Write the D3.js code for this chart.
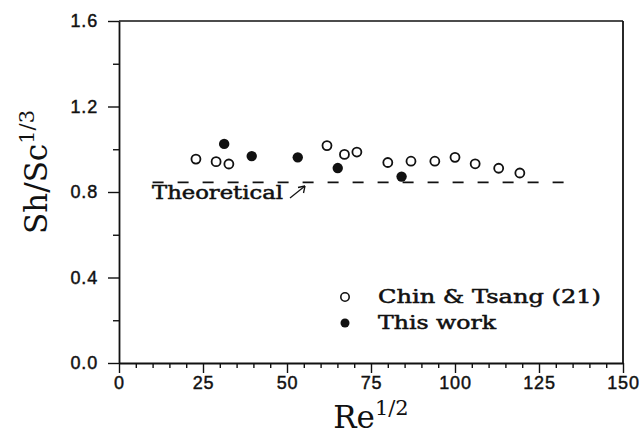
<!DOCTYPE html>
<html>
<head>
<meta charset="utf-8">
<script src="https://cdn.jsdelivr.net/npm/d3@7"></script>
<style>
  html, body { margin: 0; padding: 0; background: #fff; }
  svg { display: block; }
</style>
</head>
<body>
<svg id="chart" width="641" height="436"></svg>
<script>
// Sh/Sc^(1/3) against Re^(1/2)
const chinTsangRe = [22.9, 28.9, 32.7, 61.9, 67.1, 70.8, 80.0, 86.9, 94.0, 100.0, 106.0, 113.0, 119.3];
const chinTsangSh = [0.954, 0.942, 0.931, 1.017, 0.976, 0.987, 0.938, 0.944, 0.944, 0.962, 0.932, 0.911, 0.889];
const thisWorkRe = [31.3, 39.5, 53.2, 65.1, 84.1];
const thisWorkSh = [1.025, 0.968, 0.962, 0.912, 0.872];
const theoryRe = [10, 135];
const theorySh = [0.845, 0.845];
const xTicks = [0, 25, 50, 75, 100, 125, 150];
const yTicks = [0.0, 0.4, 0.8, 1.2, 1.6];
const legendLabels = ["Chin & Tsang (21)", "This work"];
const theoryLabel = "Theoretical";

const svg = d3.select("#chart");
const plotL = 119, plotR = 623, plotT = 21, plotB = 363;

const x = d3.scaleLinear().domain([0, 150]).range([plotL, plotR]);
const y = d3.scaleLinear().domain([0, 1.6]).range([plotB, plotT]);

const ink = "#111";
const tickFont = "'Liberation Sans', Arial, sans-serif";
const typeFont = "'DejaVu Serif', 'Liberation Serif', serif";
const titleFont = "'DejaVu Serif', 'Liberation Serif', serif";

// frame: top and right edges
svg.append("line").attr("x1", plotL).attr("x2", plotR).attr("y1", plotT).attr("y2", plotT)
  .attr("stroke", ink).attr("stroke-width", 1.6);
svg.append("line").attr("x1", plotR).attr("x2", plotR).attr("y1", plotT).attr("y2", plotB)
  .attr("stroke", ink).attr("stroke-width", 1.8);

// minor ticks
const xMinor = d3.range(0, 151, 5).filter(v => v % 25 !== 0);
const yMinor = [0.2, 0.6, 1.0, 1.4];

svg.append("g").attr("transform", `translate(0,${plotB})`)
  .call(d3.axisBottom(x).tickValues(xTicks).tickFormat(d3.format("d")).tickSize(10).tickSizeOuter(0).tickPadding(3));
svg.append("g").attr("transform", `translate(0,${plotB})`)
  .call(d3.axisBottom(x).tickValues(xMinor).tickFormat("").tickSize(5).tickSizeOuter(0))
  .call(g => g.select(".domain").remove());

svg.append("g").attr("transform", `translate(${plotL},0)`)
  .call(d3.axisLeft(y).tickValues(yTicks).tickFormat(d3.format(".1f")).tickSize(11).tickSizeOuter(0).tickPadding(10));
svg.append("g").attr("transform", `translate(${plotL},0)`)
  .call(d3.axisLeft(y).tickValues(yMinor).tickFormat("").tickSize(6).tickSizeOuter(0))
  .call(g => g.select(".domain").remove());

svg.selectAll(".domain").attr("stroke", ink).attr("stroke-width", 1.8);
svg.selectAll(".tick line").attr("stroke", ink).attr("stroke-width", 1.4);
svg.selectAll(".tick text").attr("fill", ink).attr("font-family", tickFont)
  .attr("font-size", 18).attr("letter-spacing", 0.8)
  .attr("stroke", ink).attr("stroke-width", 0.45);

// theoretical line
svg.append("path")
  .datum(theoryRe.map((r, i) => [r, theorySh[i]]))
  .attr("d", d3.line().x(d => x(d[0])).y(d => y(d[1])))
  .attr("fill", "none").attr("stroke", ink).attr("stroke-width", 1.6)
  .attr("stroke-dasharray", "11 14");

svg.append("text").attr("x", 152).attr("y", 199)
  .attr("font-family", typeFont).attr("font-size", 18)
  .attr("stroke", ink).attr("stroke-width", 0.5)
  .attr("textLength", 131).attr("lengthAdjust", "spacingAndGlyphs")
  .attr("fill", ink).text(theoryLabel);

// arrow pointing at the theoretical line
svg.append("line").attr("x1", 290).attr("y1", 198).attr("x2", 305).attr("y2", 186)
  .attr("stroke", ink).attr("stroke-width", 1.3);
svg.append("path").attr("d", "M305,186 l-7,1.5 M305,186 l-1.5,7")
  .attr("stroke", ink).attr("stroke-width", 1.3).attr("fill", "none");

// data points
svg.append("g").selectAll("circle")
  .data(chinTsangRe.map((r, i) => [r, chinTsangSh[i]]))
  .join("circle")
  .attr("cx", d => x(d[0])).attr("cy", d => y(d[1])).attr("r", 4.5)
  .attr("fill", "#fff").attr("stroke", ink).attr("stroke-width", 1.8);

svg.append("g").selectAll("circle")
  .data(thisWorkRe.map((r, i) => [r, thisWorkSh[i]]))
  .join("circle")
  .attr("cx", d => x(d[0])).attr("cy", d => y(d[1])).attr("r", 5.2)
  .attr("fill", ink);

// legend
const legend = svg.append("g");
legend.append("circle").attr("cx", 345).attr("cy", 297).attr("r", 4.2)
  .attr("fill", "#fff").attr("stroke", ink).attr("stroke-width", 1.6);
legend.append("circle").attr("cx", 345).attr("cy", 323).attr("r", 4.5).attr("fill", ink);
legend.selectAll("text").data(legendLabels).join("text")
  .attr("x", 378).attr("y", (d, i) => 303 + i * 26)
  .attr("font-family", typeFont).attr("font-size", 18)
  .attr("fill", ink).attr("stroke", ink).attr("stroke-width", 0.5)
  .attr("textLength", (d, i) => i === 0 ? 223 : 118)
  .attr("lengthAdjust", "spacingAndGlyphs")
  .text(d => d);

// axis titles
const xt = svg.append("text").attr("x", 371).attr("y", 428).attr("text-anchor", "middle")
  .attr("font-family", titleFont).attr("font-size", 31).attr("fill", ink);
xt.append("tspan").text("Re");
xt.append("tspan").attr("dy", -13).attr("font-size", 21).text("1/2");

const yt = svg.append("text")
  .attr("transform", "translate(47,172) rotate(-90)")
  .attr("text-anchor", "middle")
  .attr("font-family", titleFont).attr("font-size", 31).attr("fill", ink);
yt.append("tspan").text("Sh/Sc");
yt.append("tspan").attr("dy", -13).attr("font-size", 21).text("1/3");
</script>
</body>
</html>
